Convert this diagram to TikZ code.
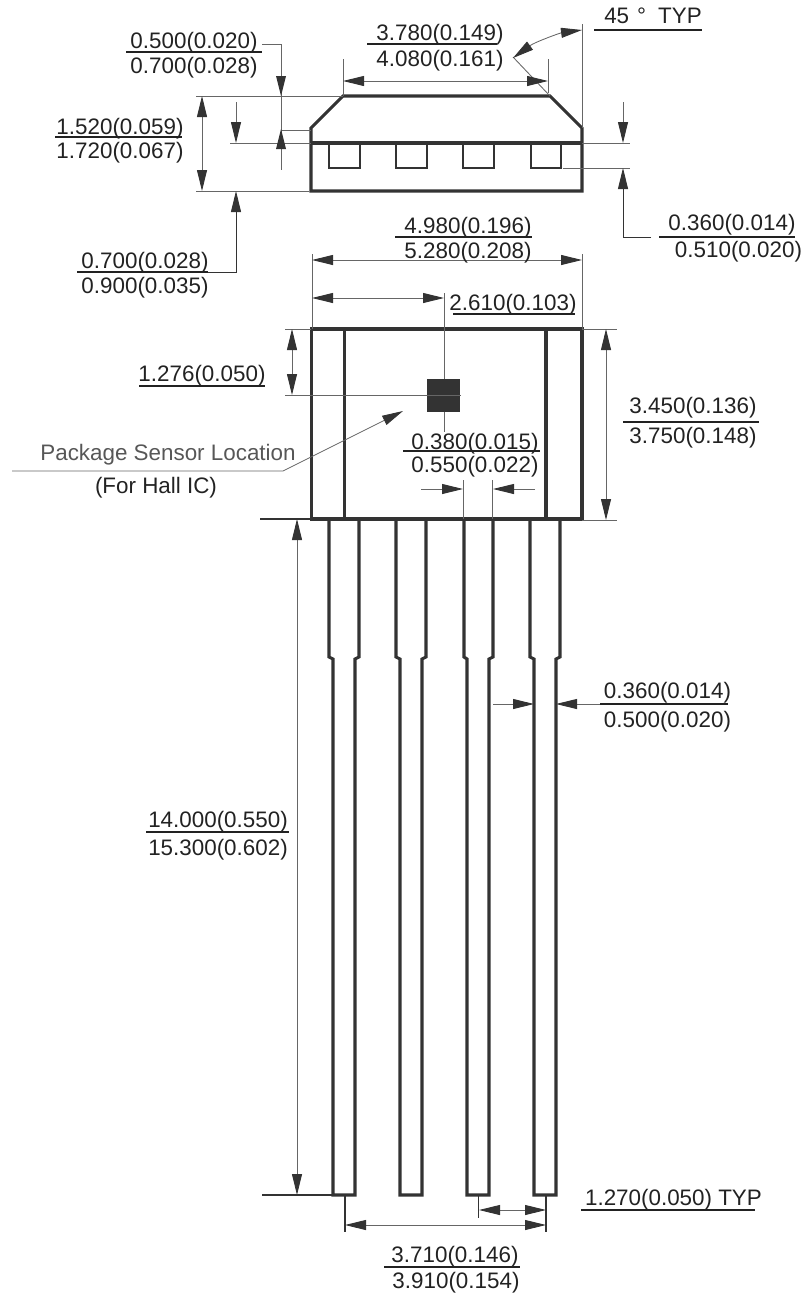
\documentclass[tikz,border=0pt]{standalone}
\usepackage{fontspec}
\setmainfont{Liberation Sans}
\usetikzlibrary{arrows.meta}
\definecolor{ink}{HTML}{333333}
\definecolor{thin}{HTML}{666666}
\definecolor{txt}{HTML}{222222}
\tikzset{
  body/.style={draw=ink,line width=3.1pt,line join=miter},
  dimline/.style={draw=thin,line width=0.85pt},
  tip/.style={-{Triangle[length=21pt,width=10pt,color=ink,fill=ink]}},
  tips/.style={{Triangle[length=21pt,width=10pt,color=ink,fill=ink]}-{Triangle[length=21pt,width=10pt,color=ink,fill=ink]}},
  lab/.style={anchor=base,inner sep=0pt,outer sep=0pt,text=txt,font=\fontsize{22.4}{26}\selectfont},
  frule/.style={draw=txt,line width=1.2pt},
}
% name, centre x, top baseline, bottom baseline, rule x1, rule x2, rule y, top text, bottom text
\newcommand\fraclab[9]{%
  \node[lab] (#1t) at (#2,#3) {#8};
  \node[lab] (#1b) at (#2,#4) {#9};
  \draw[frule] (#5,#7) -- (#6,#7);
}
\begin{document}
\begin{tikzpicture}[x=1pt,y=-1pt]
\useasboundingbox (0,0) rectangle (803,1293);
% ---------- top view
\draw[body] (311,191) -- (311,128) -- (343,96) -- (550,96) -- (582,128) -- (582,191) -- cycle;
\draw[body] (311,143) -- (582,143);
\foreach \a/\b in {329/360,396/427,463/494,531/561}
  \draw[body,line width=2.6pt] (\a,143) -- (\a,168) -- (\b,168) -- (\b,143);
% extension lines, top view
\draw[dimline] (196,96) -- (343,96);
\draw[dimline] (281,130) -- (311,130);
\draw[dimline] (230,143) -- (311,143);
\draw[dimline] (196,191) -- (309,191);
\draw[dimline] (343,59) -- (343,96);
\draw[dimline] (548,59) -- (548,93);
\draw[dimline] (513,57) -- (550,96);
\draw[dimline] (582,24) -- (582,128);
\draw[dimline] (582,143) -- (630,143);
\draw[dimline] (563,168) -- (630,168);
% dimensions, top view
\draw[dimline] (262,44) -- (281,44) -- (281,170);
\fill[ink] (281,96) -- (276,76) -- (286,76) -- cycle;
\fill[ink] (281,129) -- (276,149) -- (286,149) -- cycle;
\draw[dimline,tips] (202,96) -- (202,191);
\draw[dimline,tip] (236,102) -- (236,143);
\draw[dimline,tip,draw=ink] (208,272) -- (236,272) -- (236,191);
\draw[dimline,tips] (343,81) -- (548,81);
\draw[dimline,tips] (513,58) .. controls (535,42) and (560,33) .. (582,30);
\draw[dimline,tip] (623,102) -- (623,143);
\draw[dimline,tip,draw=ink] (651,237) -- (623,237) -- (623,168);
% ---------- front view
\draw[body] (311.5,329) rectangle (582,519);
\draw[body] (344.5,329) -- (344.5,519);
\draw[body] (546,329) -- (546,519);
\fill[ink] (427,379) rectangle (460,412);
% leads
\foreach \a/\b/\c/\d in {329/333/355/359,396/400/422/426,464/467/489/493,530/534/556/560}
  \draw[body] (\a,519) -- (\a,657) -- (\b,659) -- (\b,1195) -- (\c,1195) -- (\c,659) -- (\d,657) -- (\d,519);
% extension lines, front view
\draw[dimline] (312,254) -- (312,329);
\draw[dimline] (582,254) -- (582,329);
\draw[dimline] (444,293) -- (444,379);
\draw[dimline] (444,412) -- (444,432);
\draw[dimline] (285,329) -- (311,329);
\draw[dimline] (285,395) -- (461,395);
\draw[dimline] (582,329) -- (617,329);
\draw[dimline] (582,520) -- (617,520);
\draw[dimline] (463.5,480) -- (463.5,519);
\draw[dimline] (492.5,480) -- (492.5,519);
\draw[draw=ink,line width=1.1pt] (260,519) -- (311,519);
\draw[draw=ink,line width=1.1pt] (262,1195) -- (333,1195);
\draw[draw=ink,line width=1.1pt] (345,1195) -- (345,1232);
\draw[draw=ink,line width=1.1pt] (546,1195) -- (546,1232);
\draw[draw=ink,line width=1.1pt] (478.5,1195) -- (478.5,1218);
% dimensions, front view
\draw[dimline,tips] (312,260) -- (582,260);
\draw[dimline,tips] (312,298) -- (444,298);
\draw[dimline,tips] (292,329) -- (292,395);
\draw[dimline,tips] (606,329) -- (606,520);
\draw[dimline,tip] (421,489) -- (463,489);
\draw[dimline,tip] (535,489) -- (493,489);
\draw[dimline,tips] (297,519) -- (297,1195);
\draw[dimline,tip] (493,704) -- (534,704);
\draw[dimline,tip] (600,704) -- (556,704);
\draw[dimline,tips] (479,1210) -- (546,1210);
\draw[dimline,tips] (345,1225) -- (546,1225);
% leader
\draw[dimline,tip] (12,471) -- (283,471) -- (403,411);
% ---------- labels
\fraclab{a}{194}{48}{73}{126}{262}{52}{0.500(0.020)}{0.700(0.028)}
\fraclab{b}{120}{134}{158}{55}{182}{137}{1.520(0.059)}{1.720(0.067)}
\fraclab{c}{145}{268}{293}{77}{208}{272}{0.700(0.028)}{0.900(0.035)}
\fraclab{d}{440}{40}{66}{367}{497}{44}{3.780(0.149)}{4.080(0.161)}
\fraclab{e}{732}{230}{257}{659}{795}{237}{0.360(0.014)}{\hspace{13pt}0.510(0.020)}
\fraclab{f}{468}{233}{258}{395}{532}{237}{4.980(0.196)}{5.280(0.208)}
\fraclab{g}{693}{413}{443}{623}{759}{422}{3.450(0.136)}{3.750(0.148)}
\fraclab{h}{475}{449}{472}{403}{540}{451}{0.380(0.015)}{0.550(0.022)}
\fraclab{i}{667.5}{698}{727}{600}{728}{704}{0.360(0.014)}{0.500(0.020)}
\fraclab{j}{218}{827}{855}{146}{289}{832}{14.000(0.550)}{15.300(0.602)}
\fraclab{k}{455}{1262}{1288}{384}{520}{1267}{3.710(0.146)}{\hspace{2pt}3.910(0.154)}
\node[lab] (l) at (513,310) {2.610(0.103)};
\draw[frule] (453,314) -- (575,314);
\node[lab] (m) at (202,381) {1.276(0.050)};
\draw[frule] (139,386) -- (265,386);
\node[lab] (n) at (653,23) {45\hspace{8pt}°\hspace{12pt}TYP};
\draw[frule] (594,30) -- (702,30);
\node[lab] (o) at (673.5,1205) {1.270(0.050) TYP};
\draw[frule] (581,1210) -- (755,1210);
\node[lab,text=thin!85!black] (p) at (168,460) {Package Sensor Location};
\node[lab] (q) at (156,493) {(For Hall IC)};
\end{tikzpicture}
\end{document}
